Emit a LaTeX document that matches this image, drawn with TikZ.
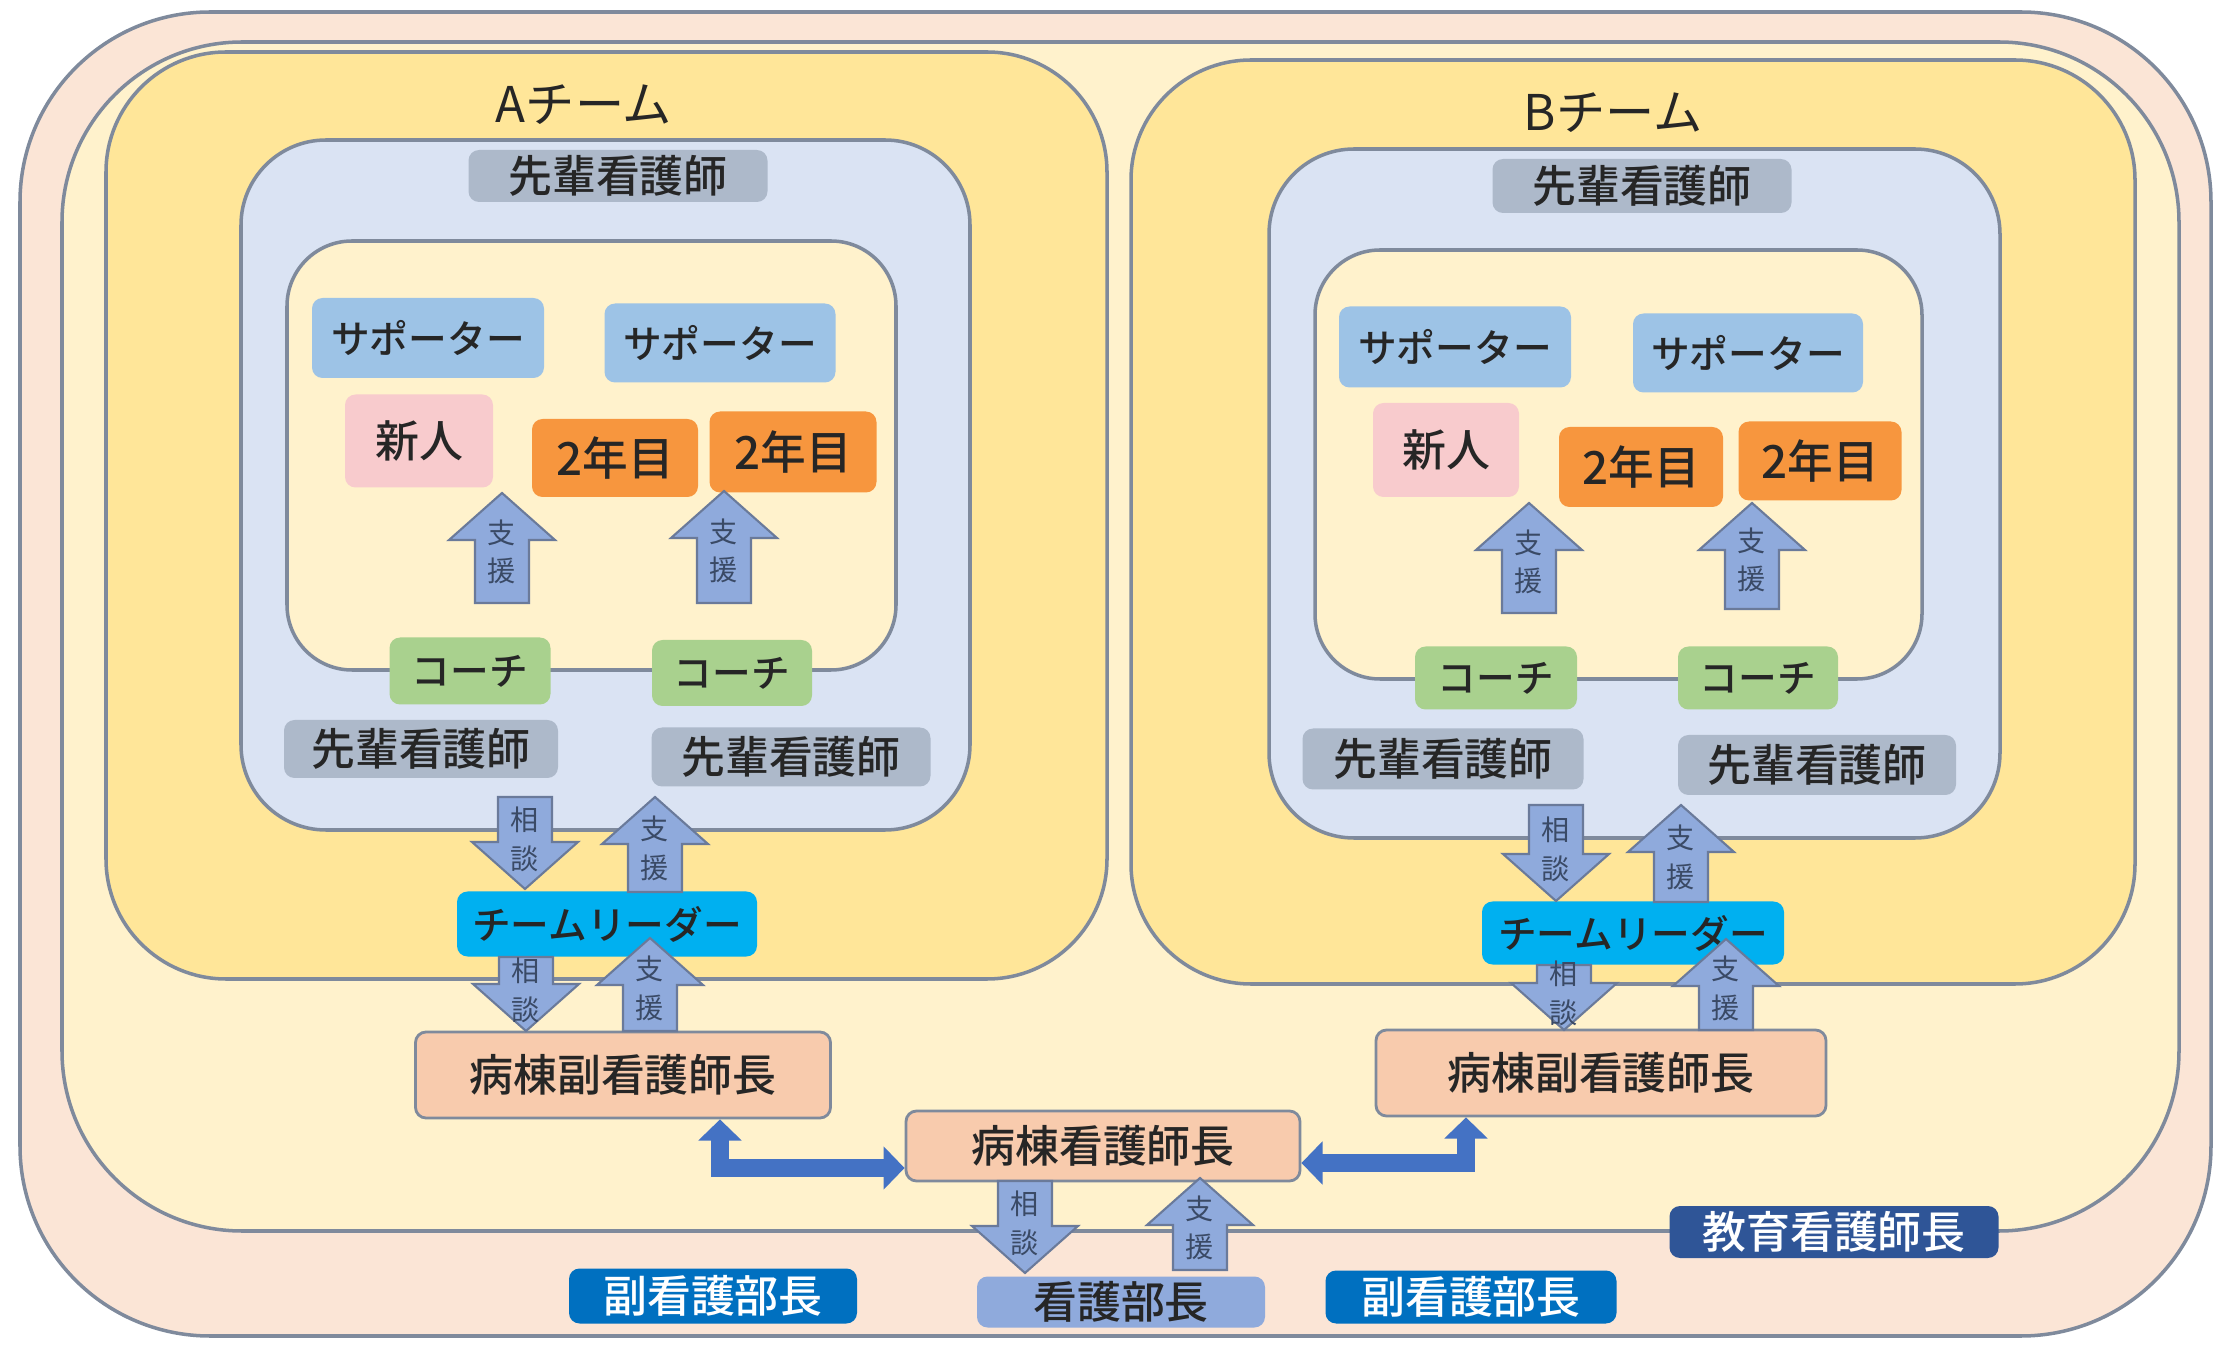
\documentclass[tikz,border=0pt]{standalone}
\usepackage{fontspec}
\setmainfont{Noto Sans CJK JP}
\newfontfamily\jpmed{Noto Sans CJK JP}[UprightFont=* Medium]
\usetikzlibrary{arrows.meta}
\definecolor{peach}{HTML}{FBE5D6}
\definecolor{cream}{HTML}{FFF2CC}
\definecolor{teamy}{HTML}{FFE699}
\definecolor{lblue}{HTML}{DAE3F3}
\definecolor{bordc}{HTML}{7F8A9C}
\definecolor{grayn}{HTML}{ADB9CA}
\definecolor{supc}{HTML}{9DC3E6}
\definecolor{newcol}{HTML}{F8CBCD}
\definecolor{yrc}{HTML}{F7963E}
\definecolor{coachc}{HTML}{A9D18E}
\definecolor{leadc}{HTML}{00B0F0}
\definecolor{chiefc}{HTML}{F8CBAD}
\definecolor{dirc}{HTML}{8FAADC}
\definecolor{vdirc}{HTML}{0070C0}
\definecolor{educ}{HTML}{2F5597}
\definecolor{arrf}{HTML}{8FAADC}
\definecolor{arrd}{HTML}{6A7A9A}
\definecolor{connc}{HTML}{4472C4}
\definecolor{txt}{HTML}{262626}
\definecolor{albl}{HTML}{3A4A66}
\tikzset{
  bgbox/.style={draw=bordc, line width=1pt},
  nbase/.style={rounded corners=3pt, inner sep=0pt, text=txt, font=\jpmed\fontsize{12.5}{15}\selectfont},
  nsen/.style={nbase, fill=grayn},
  nsup/.style={nbase, fill=supc, font=\jpmed\fontsize{11}{13}\selectfont},
  nnew/.style={nbase, fill=newcol},
  nyr/.style={nbase, fill=yrc, font=\jpmed\fontsize{13}{15}\selectfont},
  ncoach/.style={nbase, fill=coachc, font=\jpmed\fontsize{11}{13}\selectfont},
  nlead/.style={nbase, fill=leadc, font=\jpmed\fontsize{11}{13}\selectfont},
  nchief/.style={nbase, fill=chiefc, draw=bordc, line width=0.8pt},
  ndir/.style={nbase, fill=dirc},
  nvdir/.style={nbase, fill=vdirc, text=white},
  nedu/.style={nbase, fill=educ, text=white},
  ntitle/.style={inner sep=0pt, text=txt, font=\fontsize{14}{16}\selectfont},
  alabel/.style={inner sep=0pt, text=albl, align=center, font=\fontsize{8}{11}\selectfont},
  blockarr/.style={fill=arrf, draw=arrd, line width=0.6pt, line join=miter},
  conn/.style={draw=connc, line width=5pt, line join=miter,
    {Triangle[length=6pt,width=12pt]}-{Triangle[length=6pt,width=12pt]}}
}
\newcommand\nd[7]{\node[#1, minimum width=#5*0.01cm, minimum height=#6*0.01cm] (#2) at (#3,#4) {#7};}
\newcommand\barrow[5]{%
  \draw[blockarr] ({#2-27},#3) -- ({#2-27},{#4+47*sign(#3-#4)}) -- ({#2-53},{#4+47*sign(#3-#4)})
    -- (#2,#4) -- ({#2+53},{#4+47*sign(#3-#4)}) -- ({#2+27},{#4+47*sign(#3-#4)}) -- ({#2+27},#3) -- cycle;
  \node[alabel] (#1) at (#2,{(#3+#4)/2+4*sign(#3-#4)}) {#5};}
\begin{document}
\begin{tikzpicture}[x=0.01cm,y=-0.01cm]
\useasboundingbox (0,0) rectangle (2226,1346);
\fill[white] (0,0) rectangle (2226,1346);
% backgrounds
\draw[bgbox, fill=peach, rounded corners=1.9cm] (20,12) rectangle (2211,1336);
\draw[bgbox, fill=cream, rounded corners=1.8cm] (62,42) rectangle (2179,1231);
\draw[bgbox, fill=teamy, rounded corners=1.2cm] (106,52) rectangle (1107,979);
\draw[bgbox, fill=teamy, rounded corners=1.2cm] (1131,60) rectangle (2135,984);
\draw[bgbox, fill=lblue, rounded corners=0.85cm] (241,140) rectangle (970,830);
\draw[bgbox, fill=lblue, rounded corners=0.85cm] (1269,149) rectangle (2000,838);
\draw[bgbox, fill=cream, rounded corners=0.65cm] (287,241) rectangle (896,670);
\draw[bgbox, fill=cream, rounded corners=0.65cm] (1315,250) rectangle (1922,679);
% titles
\node[ntitle] (titA) at (584,105) {Aチーム};
\node[ntitle] (titB) at (1613,113) {Bチーム};
% A team
\nd{nsen}{senA0}{618}{176}{299}{52}{先輩看護師}
\nd{nsup}{supA1}{428}{338}{232}{80}{サポーター}
\nd{nsup}{supA2}{720}{343}{231}{79}{サポーター}
\nd{nnew}{newA}{419}{441}{148}{93}{新人}
\nd{nyr}{yrA1}{615}{458}{166}{78}{2年目}
\nd{nyr}{yrA2}{793}{452}{167}{81}{2年目}
\nd{ncoach}{coachA1}{470}{671}{161}{67}{コーチ}
\nd{ncoach}{coachA2}{732}{673}{160}{66}{コーチ}
\nd{nsen}{senA1}{421}{749}{274}{58}{先輩看護師}
\nd{nsen}{senA2}{791}{757}{279}{59}{先輩看護師}
\nd{nlead}{leadA}{607}{924}{300}{65}{チームリーダー}
\nd{nchief}{vhA}{623}{1075}{415}{86}{病棟副看護師長}
% B team
\nd{nsen}{senB0}{1642}{186}{299}{54}{先輩看護師}
\nd{nsup}{supB1}{1455}{347}{232}{81}{サポーター}
\nd{nsup}{supB2}{1748}{353}{230}{79}{サポーター}
\nd{nnew}{newB}{1446}{450}{146}{94}{新人}
\nd{nyr}{yrB1}{1641}{467}{164}{80}{2年目}
\nd{nyr}{yrB2}{1820}{461}{163}{79}{2年目}
\nd{ncoach}{coachB1}{1496}{678}{162}{63}{コーチ}
\nd{ncoach}{coachB2}{1758}{678}{160}{63}{コーチ}
\nd{nsen}{senB1}{1443}{759}{281}{61}{先輩看護師}
\nd{nsen}{senB2}{1817}{765}{278}{60}{先輩看護師}
\nd{nlead}{leadB}{1633}{933}{302}{63}{チームリーダー}
\nd{nchief}{vhB}{1601}{1073}{450}{86}{病棟副看護師長}
% centre
\nd{nchief}{headN}{1103}{1146}{394}{70}{病棟看護師長}
\nd{ndir}{dirN}{1121}{1302}{288}{51}{看護部長}
\nd{nvdir}{vdirL}{713}{1296}{288}{55}{副看護部長}
\nd{nvdir}{vdirR}{1471}{1297}{291}{53}{副看護部長}
\nd{nedu}{eduN}{1834}{1232}{329}{52}{教育看護師長}
% block arrows: name, x, y tail, y tip, label
\barrow{aA1}{502}{603}{493}{支\\援}
\barrow{aA2}{724}{603}{491}{支\\援}
\barrow{aB1}{1529}{613}{503}{支\\援}
\barrow{aB2}{1752}{609}{503}{支\\援}
\barrow{aA3}{525}{797}{889}{相\\談}
\barrow{aA4}{655}{892}{797}{支\\援}
\barrow{aA5}{526}{957}{1031}{相\\談}
\barrow{aA6}{650}{1031}{938}{支\\援}
\barrow{aB3}{1556}{805}{901}{相\\談}
\barrow{aB4}{1681}{902}{805}{支\\援}
\barrow{aB5}{1564}{965}{1030}{相\\談}
\barrow{aB6}{1726}{1030}{939}{支\\援}
\barrow{aC1}{1025}{1181}{1273}{相\\談}
\barrow{aC2}{1200}{1270}{1178}{支\\援}
% connectors
\coordinate (jL) at (720,1168);
\coordinate (jR) at (1466,1163);
\draw[conn] (jL |- vhA.south) -- (jL) -- (jL -| headN.west);
\draw[conn] (jR |- vhB.south) -- (jR) -- (jR -| headN.east);
\end{tikzpicture}
\end{document}
